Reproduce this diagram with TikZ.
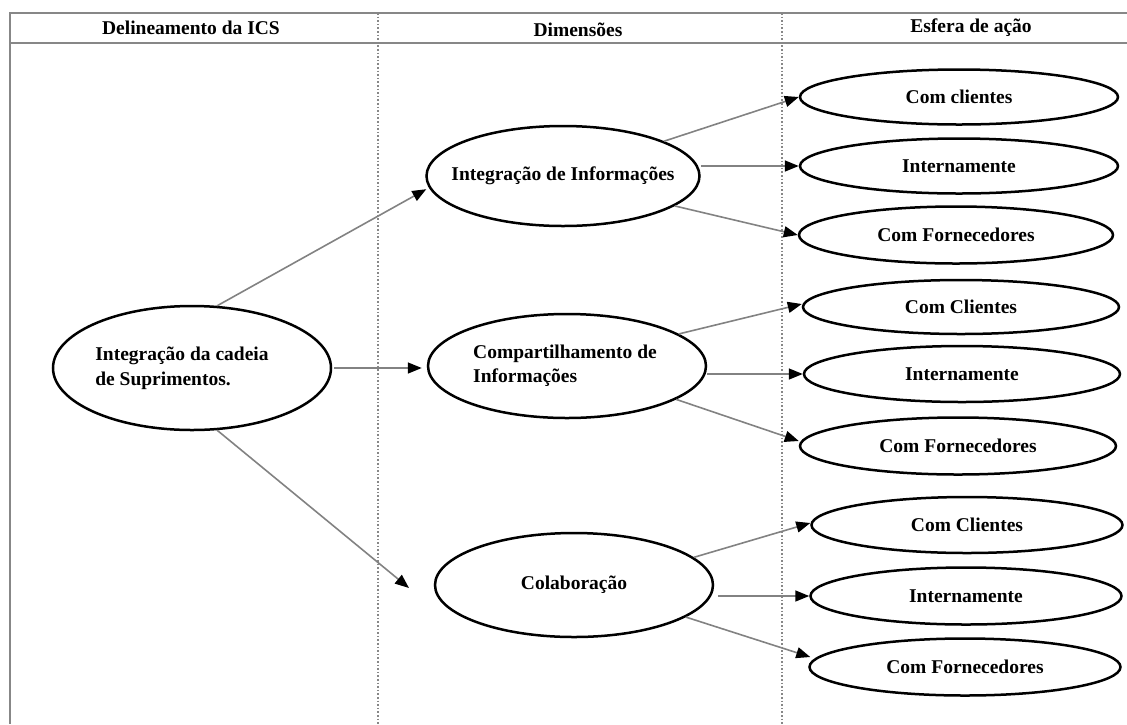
\documentclass[tikz,border=0pt]{standalone}
\usepackage{fontspec}
\setmainfont{Liberation Serif}
\usetikzlibrary{shapes.geometric,arrows.meta}
\definecolor{framegray}{RGB}{135,135,135}
\definecolor{arrgray}{RGB}{130,130,130}
\newcommand{\ctext}[1]{\makebox[0pt]{#1}}
\newcommand{\ltext}[2][0pt]{\makebox[0pt]{\hspace*{#1}\begin{tabular}{@{}l@{}}#2\end{tabular}}}
\begin{document}
\begin{tikzpicture}[x=1pt,y=-1pt,
  txt/.style={font=\bfseries\fontsize{19.5}{24}\selectfont},
  ell/.style={draw=black, ellipse, line width=2.5pt, inner sep=0pt, txt},
  arr/.style={draw=arrgray, line width=1.6pt, -{Triangle[length=14pt,width=11pt,color=black,fill=black]}},
  frame/.style={draw=framegray, line width=2pt},
  sep/.style={draw=framegray, line width=1.6pt, dotted}]
\useasboundingbox (0,0) rectangle (1127,724);
% frame
\draw[frame] (1127,13) -- (10,13) -- (10,724);
\draw[frame] (10,43) -- (1127,43);
\draw[sep] (378,13) -- (378,724);
\draw[sep] (782,13) -- (782,724);
% headers
\node[txt] (h1) at (191,28) {Delineamento da ICS};
\node[txt] (h2) at (578,30) {Dimensões};
\node[txt] (h3) at (971,28) {Esfera de ação};
% main
\node[ell, minimum width=278pt, minimum height=124pt] (main) at (192,368) {\ltext[-20pt]{Integração da cadeia\\[1pt]de Suprimentos.}};
% dimensions
\node[ell, minimum width=273pt, minimum height=100pt] (intg) at (563,176) {\ctext{Integração de Informações}};
\node[ell, minimum width=278pt, minimum height=104pt] (comp) at (567,366) {\ltext[-4pt]{Compartilhamento de\\Informações}};
\node[ell, minimum width=278pt, minimum height=104pt] (colab) at (574,585) {\ctext{Colaboração}};
% spheres
\node[ell, minimum width=318pt, minimum height=55pt] (s1) at (959,97) {\ctext{Com clientes}};
\node[ell, minimum width=318pt, minimum height=55pt] (s2) at (959,166) {\ctext{Internamente}};
\node[ell, minimum width=314pt, minimum height=57pt] (s3) at (956,235) {\ctext{Com Fornecedores}};
\node[ell, minimum width=316pt, minimum height=54pt] (s4) at (961,307) {\ctext{Com Clientes}};
\node[ell, minimum width=316pt, minimum height=56pt] (s5) at (962,374) {\ctext{Internamente}};
\node[ell, minimum width=316pt, minimum height=57pt] (s6) at (958,446) {\ctext{Com Fornecedores}};
\node[ell, minimum width=311pt, minimum height=56pt] (s7) at (967,525) {\ctext{Com Clientes}};
\node[ell, minimum width=311pt, minimum height=57pt] (s8) at (966,596) {\ctext{Internamente}};
\node[ell, minimum width=311pt, minimum height=57pt] (s9) at (965,667) {\ctext{Com Fornecedores}};
\coordinate (colabin) at (409,588);
% connectors
\draw[arr, shorten >=3pt] (main.68) -- (intg.185);
\draw[arr, shorten <=2pt, shorten >=5pt] (main.east) -- (main.east -| comp.west);
\draw[arr] (main.-68) -- (colabin);
\draw[arr] (intg.19) -- (s1.west);
\draw[arr] (s2.west -| intg.east) -- (s2.west);
\draw[arr] (intg.-15) -- (s3.west);
\draw[arr] (comp.16) -- ([yshift=3pt]s4.west);
\draw[arr] (s5.west -| comp.east) -- (s5.west);
\draw[arr] (comp.-17) -- ([yshift=5pt]s6.west);
\draw[arr] (colab.13) -- ([yshift=2pt]s7.west);
\draw[arr] ([xshift=4pt]colab.east |- s8.west) -- (s8.west);
\draw[arr] (colab.-16) -- ([yshift=10pt,xshift=2pt]s9.west);
\end{tikzpicture}
\end{document}
